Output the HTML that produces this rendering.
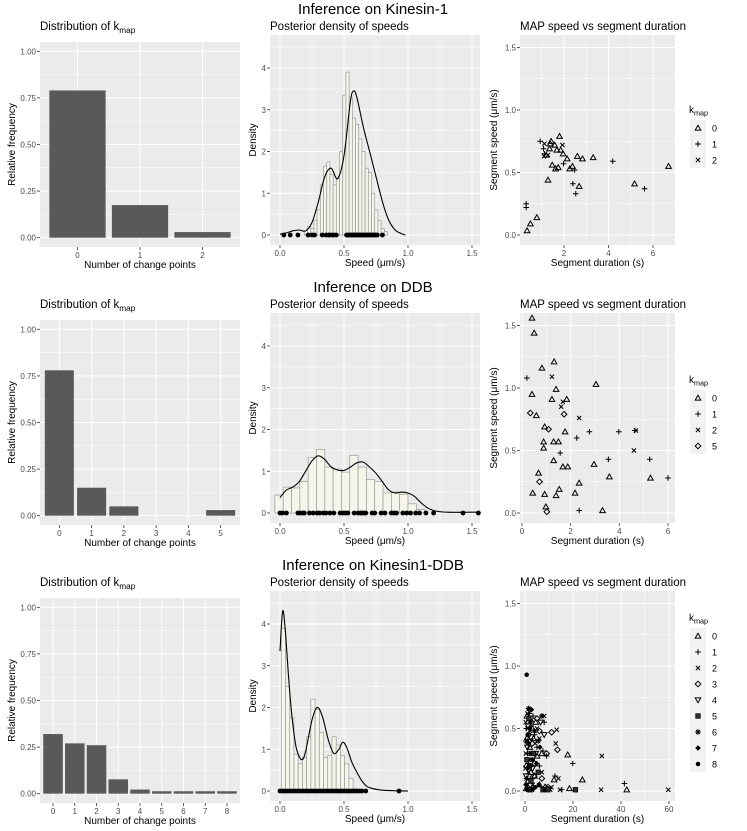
<!DOCTYPE html>
<html><head><meta charset="utf-8">
<style>
html,body{margin:0;padding:0;background:#fff;}
svg{display:block;font-family:"Liberation Sans",sans-serif;}
</style></head>
<body>
<svg id="fig" width="747" height="831" viewBox="0 0 747 831" xmlns="http://www.w3.org/2000/svg"></svg>
<script>
// ---------- DATA ----------
const rowTitles = ["Inference on Kinesin-1","Inference on DDB","Inference on Kinesin1-DDB"];
const kCats1 = ["0","1","2"];
const kFreq1 = [0.79,0.175,0.03];
const kCats2 = ["0","1","2","3","4","5"];
const kFreq2 = [0.78,0.15,0.05,0,0,0.03];
const kCats3 = ["0","1","2","3","4","5","6","7","8"];
const kFreq3 = [0.32,0.27,0.26,0.077,0.022,0.013,0.013,0.013,0.013];
const histStart1 = 0.19, histWidth1 = 0.025;
const histH1 = [0.1,0.2,0.15,0.35,0.6,1.2,1.65,1.75,1.45,1.2,1.35,2.0,3.35,3.9,3.3,2.8,2.65,2.3,2.0,1.6,1.5,1.0,0.6,0.35,0.15,0.08];
const histStart2 = -0.04, histWidth2 = 0.065;
const histH2 = [0.43,0.62,0.6,0.75,1.33,1.52,1.1,1.05,0.98,1.38,1.1,0.8,0.75,0.48,0.5,0.45,0.22,0.08];
const histStart3 = 0.01, histWidth3 = 0.033;
const histH3 = [3.9,2.5,1.75,0.88,0.65,0.8,1.3,2.2,1.95,1.4,0.8,0.85,1.3,1.1,0.85,0.65,0.3,0.05];
const densX1 = [0,0.05,0.1,0.15,0.2,0.25,0.3,0.35,0.4,0.45,0.5,0.55,0.575,0.6,0.65,0.7,0.75,0.8,0.85,0.9,0.95,0.98];
const densY1 = [0.02,0.05,0.1,0.12,0.1,0.3,0.8,1.4,1.6,1.35,1.9,3.2,3.45,3.3,2.6,2.0,1.4,0.8,0.35,0.12,0.03,0.0];
const densX2 = [0,0.05,0.1,0.15,0.2,0.25,0.3,0.35,0.4,0.45,0.5,0.55,0.6,0.65,0.7,0.75,0.8,0.85,0.9,0.95,1.0,1.05,1.1,1.15,1.2,1.3,1.55];
const densY2 = [0.37,0.55,0.62,0.75,1.0,1.25,1.37,1.28,1.1,1.03,1.02,1.1,1.2,1.22,1.1,0.95,0.75,0.55,0.48,0.5,0.48,0.4,0.25,0.13,0.06,0.02,0.02];
const densX3 = [0,0.02,0.04,0.07,0.1,0.13,0.17,0.2,0.25,0.29,0.33,0.38,0.42,0.46,0.49,0.52,0.56,0.6,0.65,0.7,0.8,1.0];
const densY3 = [3.35,4.3,3.9,2.6,1.6,1.0,0.75,0.95,1.7,2.0,1.8,1.2,0.9,1.0,1.17,1.05,0.7,0.45,0.2,0.08,0.02,0.0];
const rug1 = [0.03,0.08,0.14,0.22,0.25,0.27,0.33,0.36,0.38,0.39,0.41,0.42,0.44,0.52,0.53,0.54,0.55,0.56,0.57,0.58,0.59,0.6,0.61,0.62,0.63,0.64,0.65,0.66,0.67,0.68,0.69,0.7,0.71,0.72,0.73,0.74,0.75,0.76,0.8];
const rug2 = [0,0.02,0.05,0.14,0.16,0.18,0.19,0.23,0.26,0.29,0.31,0.34,0.36,0.39,0.42,0.47,0.49,0.51,0.53,0.58,0.61,0.63,0.64,0.66,0.67,0.72,0.74,0.79,0.82,0.87,0.89,0.91,0.96,0.99,1.02,1.06,1.09,1.14,1.2,1.43,1.55];
const rug3 = [0,0.02,0.04,0.06,0.08,0.1,0.12,0.14,0.16,0.18,0.2,0.22,0.24,0.26,0.28,0.3,0.32,0.34,0.36,0.38,0.4,0.42,0.44,0.46,0.48,0.5,0.52,0.54,0.56,0.58,0.6,0.62,0.64,0.67,0.93];
const scat1 = [[0.34,0.035,0],[0.49,0.09,0],[0.78,0.14,0],[1.28,0.44,0],[1.35,0.69,0],[1.38,0.73,0],[1.42,0.75,0],[1.47,0.56,0],[1.58,0.72,0],[1.62,0.53,0],[1.68,0.68,0],[1.74,0.54,0],[1.8,0.79,0],[1.85,0.68,0],[1.96,0.65,0],[2.14,0.61,0],[2.26,0.53,0],[2.38,0.55,0],[2.6,0.63,0],[2.68,0.39,0],[2.83,0.61,0],[3.31,0.62,0],[5.17,0.41,0],[6.7,0.55,0],[1.2,0.64,0],
[0.3,0.25,1],[0.3,0.22,1],[0.93,0.75,1],[1.08,0.69,1],[1.12,0.65,1],[1.98,0.57,1],[2.4,0.41,1],[2.53,0.33,1],[2.48,0.52,1],[4.19,0.59,1],[5.62,0.37,1],
[1.1,0.63,2],[1.28,0.64,2],[1.93,0.72,2],[1.12,0.73,2]];
const scat2 = [[0.41,1.56,0],[0.5,1.44,0],[1.32,1.21,0],[0.82,1.16,0],[3.04,1.03,0],[0.41,0.95,0],[1.4,0.99,0],[1.23,0.91,0],[1.84,0.91,0],[0.59,0.78,0],[0.93,0.69,0],[1.77,0.65,0],[0.89,0.57,0],[1.3,0.57,0],[1.5,0.57,0],[0.89,0.52,0],[1.3,0.42,0],[1.68,0.37,0],[1.88,0.37,0],[2.96,0.39,0],[3.59,0.29,0],[5.28,0.28,0],[0.68,0.32,0],[2.35,0.24,0],[0.44,0.16,0],[0.93,0.15,0],[1.4,0.14,0],[1.53,0.19,0],[2.18,0.16,0],[3.31,0.02,0],[0.98,0.05,0],
[0.2,1.08,1],[1.57,0.48,1],[2.25,0.6,1],[2.77,0.65,1],[3.98,0.65,1],[4.64,0.66,1],[3.55,0.43,1],[5.25,0.43,1],[6,0.28,1],[2.35,0.02,1],
[1.23,1.09,2],[1.61,0.85,2],[2.35,0.76,2],[4.6,0.5,2],[4.68,0.66,2],[1.68,0.89,2],
[0.34,0.8,5],[0.72,0.25,5],[1.02,0.01,5],[1.09,0.67,5],[1.73,0.79,5]];
const scat3 = [[17.8,0.29,0],[23.9,0.09,0],[18.5,0.02,0],[42.4,0.01,0],[12.1,0.09,0],[1,0.43,0],[0.5,0.02,0],[1.5,0.2,0],[2,0.35,0],[3,0.5,0],[4,0.12,0],[5,0.28,0],[6,0.05,0],[0.8,0.6,0],[2.5,0.15,0],[3.5,0.42,0],[7,0.3,0],[1.2,0.08,0],[4.5,0.55,0],
[19.9,0.22,1],[41.4,0.06,1],[15.3,0.01,1],[12.5,0.12,1],[0.5,0.5,1],[1,0.3,1],[1.8,0.62,1],[2.2,0.1,1],[3,0.25,1],[4,0.45,1],[5,0.35,1],[6,0.2,1],[7.5,0.32,1],[9,0.28,1],[1.5,0.01,1],[10,0.02,1],[8,0.55,1],[3.3,0.6,1],[0.3,0.4,1],[1.2,0.22,1],[2.6,0.52,1],
[32,0.28,2],[31.7,0.01,2],[59.7,0.01,2],[13.2,0.49,2],[13.9,0.1,2],[14.6,0.01,2],[12.8,0.38,2],[0.3,0.55,2],[0.6,0.4,2],[1,0.62,2],[1.4,0.15,2],[2,0.48,2],[2.6,0.3,2],[3.2,0.05,2],[4.2,0.38,2],[5,0.5,2],[6,0.42,2],[7,0.15,2],[8,0.6,2],[9,0.04,2],[10.5,0.01,2],[11,0.03,2],[2.8,0.57,2],[1.7,0.25,2],[0.8,0.03,2],[0.4,0.3,2],[1.1,0.5,2],[0.2,0.18,2],
[11.1,0.47,3],[13.5,0.33,3],[0.7,0.2,3],[1.5,0.45,3],[2.3,0.05,3],[3,0.38,3],[4,0.22,3],[5,0.58,3],[6,0.48,3],[7,0.1,3],[8.5,0.03,3],[9,0.3,3],[2,0.65,3],[3.8,0.12,3],
[0.5,0.12,4],[1.3,0.52,4],[2.2,0.4,4],[3.1,0.18,4],[4.5,0.3,4],[6.5,0.55,4],[8,0.45,4],[1,0.35,4],
[21,0.01,5],[0.8,0.25,5],[1.6,0.58,5],[2.5,0.08,5],[3.5,0.3,5],[5.5,0.15,5],[7.5,0.01,5],[9.5,0.01,5],[2,0.01,5],
[1.5,0.66,6],[2.1,0.3,6],[3,0.01,6],[0.6,0.1,6],[4,0.48,6],[5.5,0.4,6],[7,0.6,6],[1.2,0.45,6],
[0.4,0.05,7],[1.1,0.18,7],[1.9,0.5,7],[2.7,0.65,7],[3.6,0.02,7],[4.8,0.22,7],[6.2,0.35,7],[8.2,0.01,7],[2.4,0.2,7],
[0.7,0.93,8],[1.4,0.38,8],[2.3,0.55,8],[3.2,0.25,8],[0.9,0.01,8],[4.2,0.03,8],[5.8,0.05,8]];
const legend1 = [0,1,2];
const legend2 = [0,1,2,5];
const legend3 = [0,1,2,3,4,5,6,7,8];
const durTicks1 = [2,4,6], durMinor1 = [1,3,5];
const durTicks2 = [0,2,4,6], durMinor2 = [1,3,5];
const durTicks3 = [0,20,40,60], durMinor3 = [10,30,50];

// ---------- HELPERS ----------
const NS = "http://www.w3.org/2000/svg";
const svg = document.getElementById("fig");
function el(tag, attrs, parent){ const e=document.createElementNS(NS,tag); for(const k in attrs) e.setAttribute(k,attrs[k]); (parent||svg).appendChild(e); return e; }
function txt(x,y,s,size,opts,parent){ const t=el("text",Object.assign({x:x,y:y,"font-size":size,fill:"#000"},opts||{}),parent); t.textContent=s; return t; }
function kmapText(x,y,size,prefix,parent){
  const t=el("text",{x:x,y:y,"font-size":size,fill:"#000"},parent);
  const a=el("tspan",{},t); a.textContent=prefix+"k";
  const b=el("tspan",{dy:size*0.25,"font-size":size*0.72},t); b.textContent="map";
  return t;
}
function fmt2(v){ return v.toFixed(2); }
function gridH(g,x0,x1,y,w){ el("line",{x1:x0,x2:x1,y1:y,y2:y,stroke:"#fff","stroke-width":w},g); }
function gridV(g,x,y0,y1,w){ el("line",{x1:x,x2:x,y1:y0,y2:y1,stroke:"#fff","stroke-width":w},g); }
function yTick(g,x0,y,label){ el("line",{x1:x0-3,x2:x0,y1:y,y2:y,stroke:"#333","stroke-width":0.8},g); txt(x0-4,y+3,label,8,{"text-anchor":"end",fill:"#4d4d4d"},g); }
function xTick(g,x,y1,label){ el("line",{x1:x,x2:x,y1:y1,y2:y1+3,stroke:"#333","stroke-width":0.8},g); txt(x,y1+11,label,8,{"text-anchor":"middle",fill:"#4d4d4d"},g); }
function smoothPath(P){
  let d="M"+P[0][0].toFixed(1)+","+P[0][1].toFixed(1);
  for(let i=0;i<P.length-1;i++){
    const p0=P[Math.max(0,i-1)],p1=P[i],p2=P[i+1],p3=P[Math.min(P.length-1,i+2)];
    const c1=[p1[0]+(p2[0]-p0[0])/6,p1[1]+(p2[1]-p0[1])/6];
    const c2=[p2[0]-(p3[0]-p1[0])/6,p2[1]-(p3[1]-p1[1])/6];
    d+=`C${c1[0].toFixed(1)},${c1[1].toFixed(1)} ${c2[0].toFixed(1)},${c2[1].toFixed(1)} ${p2[0].toFixed(1)},${p2[1].toFixed(1)}`;
  }
  return d;
}

function shape(g,cx,cy,k){
  const s=2.8, st={fill:"none",stroke:"#000","stroke-width":1};
  let e;
  if(k===0){ e=el("polygon",Object.assign({points:`${cx},${cy-s} ${cx-s},${cy+s*0.75} ${cx+s},${cy+s*0.75}`},st),g); }
  else if(k===1){ e=el("path",Object.assign({d:`M${cx-s},${cy}H${cx+s}M${cx},${cy-s}V${cy+s}`},st),g); }
  else if(k===2){ const d=s*0.75; e=el("path",Object.assign({d:`M${cx-d},${cy-d}L${cx+d},${cy+d}M${cx-d},${cy+d}L${cx+d},${cy-d}`},st),g); }
  else if(k===3){ e=el("polygon",Object.assign({points:`${cx},${cy-s} ${cx+s},${cy} ${cx},${cy+s} ${cx-s},${cy}`},st),g); }
  else if(k===4){ e=el("polygon",Object.assign({points:`${cx},${cy+s} ${cx-s},${cy-s*0.75} ${cx+s},${cy-s*0.75}`},st),g); }
  else if(k===5){ e=el("rect",{x:cx-s*0.8,y:cy-s*0.8,width:s*1.6,height:s*1.6,fill:"#333",stroke:"#000","stroke-width":0.8},g); }
  else if(k===6){ e=el("path",Object.assign({d:`M${cx-s},${cy}H${cx+s}M${cx},${cy-s}V${cy+s}M${cx-s*0.7},${cy-s*0.7}L${cx+s*0.7},${cy+s*0.7}M${cx-s*0.7},${cy+s*0.7}L${cx+s*0.7},${cy-s*0.7}`},st),g); }
  else if(k===7){ e=el("polygon",{points:`${cx},${cy-s} ${cx+s},${cy} ${cx},${cy+s} ${cx-s},${cy}`,fill:"#000"},g); }
  else { e=el("circle",{cx:cx,cy:cy,r:s*0.8,fill:"#000"},g); }
  return e;
}

// ---------- PANELS ----------
function barPanel(r,cats,freqs){
  const off=r*278, X0=40,X1=240, Y0=42+off, Y1=247+off;
  const g=el("g",{});
  
  
  el("rect",{x:X0,y:Y0,width:X1-X0,height:Y1-Y0,fill:"#ebebeb"},g);
  const n=cats.length, step=(X1-X0)/(n-1+1.2);
  const xs=i=>X0+step*(0.6+i);
  const ys=v=>Y1-(v+0.05)*((Y1-Y0)/1.1);
  [0.125,0.375,0.625,0.875].forEach(v=>gridH(g,X0,X1,ys(v),0.5));
  [0,0.25,0.5,0.75,1].forEach(v=>gridH(g,X0,X1,ys(v),1));
  cats.forEach((c,i)=>gridV(g,xs(i),Y0,Y1,1));
  freqs.forEach((f,i)=>{ if(f<=0) return;
    const b=el("rect",{x:xs(i)-step*0.45,y:ys(f),width:step*0.9,height:ys(0)-ys(f),fill:"#595959"},g);
    
    
  });
  [0,0.25,0.5,0.75,1].forEach(v=>yTick(g,X0,ys(v),fmt2(v)));
  cats.forEach((c,i)=>xTick(g,xs(i),Y1,c));
  const t=kmapText(X0,Y0-12,11.5,"Distribution of ",g);
  
  
  const xt=txt((X0+X1)/2,Y1+21,"Number of change points",10,{"text-anchor":"middle"},g);
  
  
  const yt=txt(0,0,"Relative frequency",10,{"text-anchor":"middle",transform:`translate(15,${(Y0+Y1)/2}) rotate(-90)`},g);
  
  
}

function densPanel(r,hStart,hWidth,hH,dX,dY,rug){
  const off=r*278, X0=270,X1=480, Y0=35+off, Y1=245+off;
  const g=el("g",{});
  
  
  el("rect",{x:X0,y:Y0,width:X1-X0,height:Y1-Y0,fill:"#ebebeb"},g);
  const xs=v=>280+v*128;
  const ys=v=>235+off-v*41.75;
  [0.5,1.5,2.5,3.5,4.5].forEach(v=>gridH(g,X0,X1,ys(v),0.5));
  [0.25,0.75,1.25].forEach(v=>gridV(g,xs(v),Y0,Y1,0.5));
  [0,1,2,3,4].forEach(v=>gridH(g,X0,X1,ys(v),1));
  [0,0.5,1,1.5].forEach(v=>gridV(g,xs(v),Y0,Y1,1));
  hH.forEach((h,i)=>{
    const a=hStart+i*hWidth;
    const b=el("rect",{x:xs(a),y:ys(h),width:xs(a+hWidth)-xs(a),height:ys(0)-ys(h),fill:"#f5f5eb",stroke:"#9a9a9a","stroke-width":0.7},g);
    
    
  });
  const P=dX.map((x,i)=>[xs(x),ys(dY[i])]);
  const p=el("path",{d:smoothPath(P),fill:"none",stroke:"#000","stroke-width":1.1,"stroke-linejoin":"round"},g);
  
  
  rug.forEach(v=>{
    const c=el("circle",{cx:xs(v),cy:ys(0),r:2.4,fill:"#000"},g);
    
    
  });
  [0,1,2,3,4].forEach(v=>yTick(g,X0,ys(v),String(v)));
  [0,0.5,1,1.5].forEach(v=>xTick(g,xs(v),Y1,v.toFixed(1)));
  const t=txt(X0,Y0-5,"Posterior density of speeds",11.5,{},g);
  
  
  const xt=txt((X0+X1)/2,Y1+21,"Speed (\u03bcm/s)",10,{"text-anchor":"middle"},g);
  
  
  const yt=txt(0,0,"Density",10,{"text-anchor":"middle",transform:`translate(256,${(Y0+Y1)/2}) rotate(-90)`},g);
  
  
}

function scatPanel(r,pts,x0px,pxPerUnit,ticks,minor,legend){
  const off=r*278, X0=520,X1=675, Y0=35+off, Y1=245+off;
  const g=el("g",{});
  
  
  el("rect",{x:X0,y:Y0,width:X1-X0,height:Y1-Y0,fill:"#ebebeb"},g);
  const xs=v=>x0px+v*pxPerUnit;
  const ys=v=>235+off-v*125;
  [0.25,0.75,1.25].forEach(v=>gridH(g,X0,X1,ys(v),0.5));
  minor.forEach(v=>gridV(g,xs(v),Y0,Y1,0.5));
  [0,0.5,1,1.5].forEach(v=>gridH(g,X0,X1,ys(v),1));
  ticks.forEach(v=>gridV(g,xs(v),Y0,Y1,1));
  pts.forEach(p=>{
    const m=shape(g,xs(p[0]),ys(p[1]),Math.max(0,legend.indexOf(p[2])));
    
    
  });
  [0,0.5,1,1.5].forEach(v=>yTick(g,X0,ys(v),v.toFixed(1)));
  ticks.forEach(v=>xTick(g,xs(v),Y1,String(v)));
  const t=txt(X0,Y0-5,"MAP speed vs segment duration",11.5,{},g);
  
  
  const xt=txt((X0+X1)/2,Y1+21,"Segment duration (s)",10,{"text-anchor":"middle"},g);
  
  
  const yt=txt(0,0,"Segment speed (\u03bcm/s)",10,{"text-anchor":"middle",transform:`translate(497,${(Y0+Y1)/2}) rotate(-90)`},g);
  
  
  const n=legend.length, top=(Y0+Y1)/2-(n*16)/2+4;
  const lg=el("g",{},g);
  
  
  const lt=kmapText(689,top-7,10,"",lg);
  
  
  legend.forEach((k,i)=>{
    const cy=top+8+i*16;
    el("rect",{x:690,y:cy-8,width:16,height:16,fill:"#f2f2f2"},lg);
    const m=shape(lg,698,cy,i);
    
    
    const l=txt(712,cy+3.5,String(k),9,{},lg);
    
    
  });
}

rowTitles.forEach((s,i)=>{
  const t=txt(373,14+i*278,s,15,{"text-anchor":"middle"});
  
  
});
barPanel(0,kCats1,kFreq1);
barPanel(1,kCats2,kFreq2);
barPanel(2,kCats3,kFreq3);
densPanel(0,histStart1,histWidth1,histH1,densX1,densY1,rug1);
densPanel(1,histStart2,histWidth2,histH2,densX2,densY2,rug2);
densPanel(2,histStart3,histWidth3,histH3,densX3,densY3,rug3);
scatPanel(0,scat1,519.5,22.25,durTicks1,durMinor1,legend1);
scatPanel(1,scat2,522,24.33,durTicks2,durMinor2,legend2);
scatPanel(2,scat3,525,2.4,durTicks3,durMinor3,legend3);
</script>
</body></html>
